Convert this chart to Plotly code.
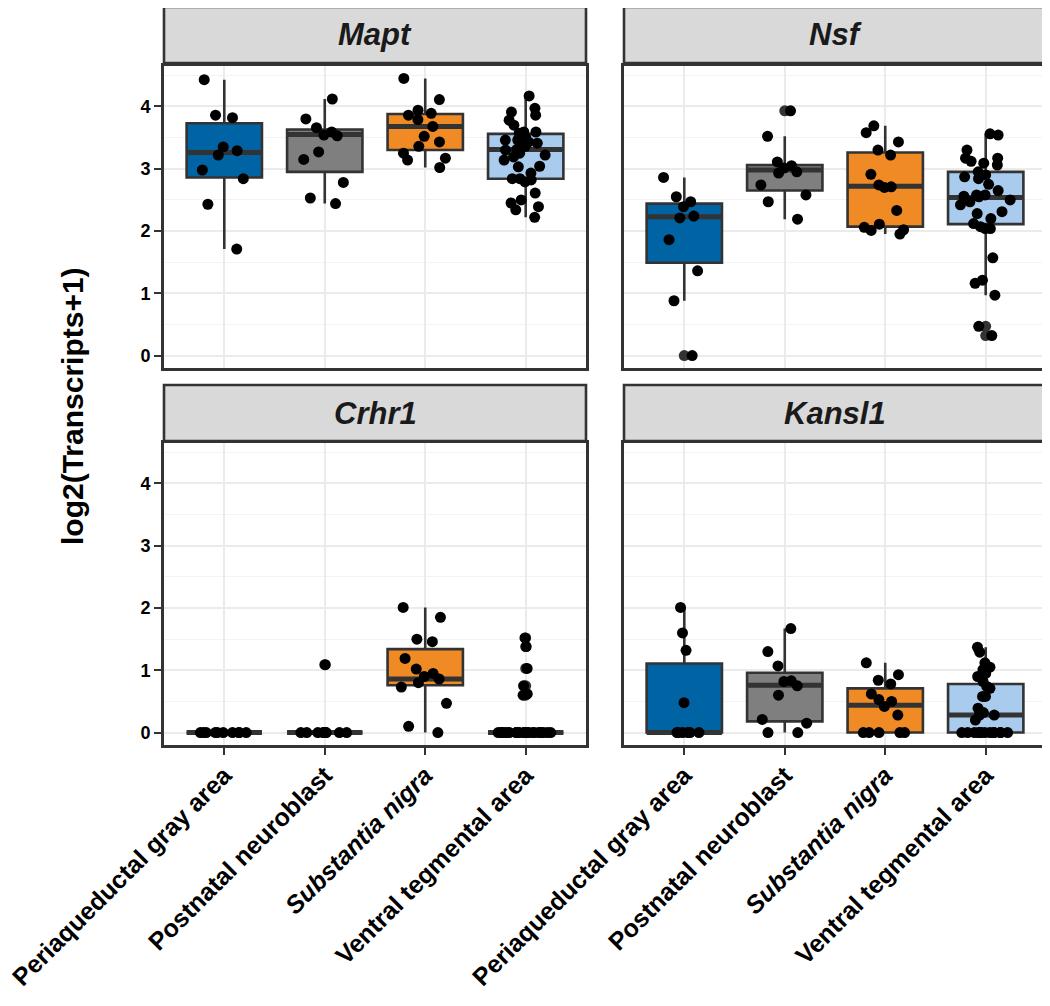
import plotly.graph_objects as go

# ---------------- data ----------------
categories = ["Periaqueductal gray area", "Postnatal neuroblast",
              "Substantia nigra", "Ventral tegmental area"]
tick_labels = ["Periaqueductal gray area", "Postnatal neuroblast",
               "<i>Substantia nigra</i>", "Ventral tegmental area"]
genes = ["Mapt", "Nsf", "Crhr1", "Kansl1"]
colors = ["#0063A3", "#7F7F7F", "#F08A24", "#A9CCEE"]
y_ticks = [0, 1, 2, 3, 4]

# Mapt
mapt_pag = [4.43, 3.86, 3.82, 3.35, 3.29, 3.22, 2.98, 2.84, 2.43, 1.71]
mapt_pn = [4.12, 3.80, 3.66, 3.59, 3.54, 3.53, 3.27, 3.15, 2.78, 2.53, 2.44]
mapt_sn = [4.45, 4.11, 3.94, 3.89, 3.86, 3.79, 3.68, 3.52, 3.43, 3.36, 3.25, 3.17, 3.14, 3.02]
mapt_vta = [4.17, 3.97, 3.91, 3.86, 3.78, 3.70, 3.59, 3.59, 3.57, 3.51, 3.46, 3.46, 3.43, 3.41,
            3.36, 3.31, 3.30, 3.25, 3.22, 3.19, 3.14, 3.04, 3.03, 2.93, 2.84, 2.84, 2.82, 2.79,
            2.61, 2.50, 2.45, 2.39, 2.34, 2.22]
mapt_q1 = [2.86, 2.95, 3.30, 2.84]
mapt_med = [3.26, 3.55, 3.68, 3.31]
mapt_q3 = [3.73, 3.63, 3.88, 3.56]
mapt_lo = [1.71, 2.44, 3.02, 2.22]
mapt_hi = [4.43, 4.12, 4.45, 4.17]

# Nsf
nsf_pag = [2.86, 2.55, 2.47, 2.39, 2.24, 2.21, 1.86, 1.36, 0.88, 0.0]
nsf_pn = [3.93, 3.52, 3.11, 3.05, 3.01, 2.95, 2.93, 2.74, 2.58, 2.47, 2.19]
nsf_sn = [3.69, 3.58, 3.43, 3.30, 3.22, 2.91, 2.74, 2.71, 2.70, 2.33, 2.11, 2.06, 2.02, 2.01, 1.95]
nsf_vta = [3.56, 3.54, 3.30, 3.17, 3.17, 3.12, 3.09, 3.06, 2.95, 2.90, 2.87, 2.84, 2.75, 2.65,
           2.58, 2.58, 2.56, 2.55, 2.50, 2.47, 2.42, 2.31, 2.28, 2.20, 2.12, 2.07, 2.04, 2.04,
           1.57, 1.21, 1.16, 0.97, 0.47, 0.32]
nsf_q1 = [1.49, 2.65, 2.07, 2.11]
nsf_med = [2.23, 2.98, 2.72, 2.54]
nsf_q3 = [2.44, 3.06, 3.26, 2.95]
nsf_lo = [0.88, 2.19, 1.95, 0.97]
nsf_hi = [2.86, 3.52, 3.69, 3.56]

# Crhr1
crhr1_pag = [0, 0, 0, 0, 0, 0, 0, 0, 0, 0]
crhr1_pn = [1.09, 0, 0, 0, 0, 0, 0, 0, 0, 0, 0]
crhr1_sn = [2.01, 1.85, 1.50, 1.46, 1.19, 1.02, 0.95, 0.90, 0.86, 0.80, 0.73, 0.47, 0.10, 0.0]
crhr1_vta = [1.52, 1.38, 1.03, 0.75, 0.62, 0.60, 0, 0, 0, 0, 0, 0, 0, 0, 0, 0, 0, 0, 0, 0,
             0, 0, 0, 0, 0, 0, 0, 0, 0, 0, 0, 0, 0, 0, 0]
crhr1_q1 = [0, 0, 0.76, 0]
crhr1_med = [0, 0, 0.86, 0]
crhr1_q3 = [0, 0, 1.34, 0]
crhr1_lo = [0, 0, 0, 0]
crhr1_hi = [0, 0, 2.01, 0]

# Kansl1
kansl1_pag = [2.01, 1.60, 1.32, 0.48, 0, 0, 0, 0, 0, 0]
kansl1_pn = [1.67, 1.30, 1.07, 0.83, 0.82, 0.75, 0.60, 0.21, 0.15, 0, 0]
kansl1_sn = [1.12, 0.93, 0.84, 0.78, 0.62, 0.53, 0.50, 0.42, 0.28, 0, 0, 0, 0, 0]
kansl1_vta = [1.37, 1.29, 1.12, 1.05, 1.01, 0.95, 0.90, 0.82, 0.74, 0.71, 0.58, 0.58, 0.39,
              0.32, 0.28, 0.28, 0.20, 0, 0, 0, 0, 0, 0, 0, 0, 0, 0, 0, 0, 0]
kansl1_q1 = [0, 0.18, 0, 0]
kansl1_med = [0, 0.76, 0.44, 0.28]
kansl1_q3 = [1.11, 0.96, 0.71, 0.78]
kansl1_lo = [0, 0, 0, 0]
kansl1_hi = [2.01, 1.67, 1.12, 1.37]

gene_points = {
    "Mapt": [mapt_pag, mapt_pn, mapt_sn, mapt_vta],
    "Nsf": [nsf_pag, nsf_pn, nsf_sn, nsf_vta],
    "Crhr1": [crhr1_pag, crhr1_pn, crhr1_sn, crhr1_vta],
    "Kansl1": [kansl1_pag, kansl1_pn, kansl1_sn, kansl1_vta],
}
gene_stats = {
    "Mapt": (mapt_q1, mapt_med, mapt_q3, mapt_lo, mapt_hi),
    "Nsf": (nsf_q1, nsf_med, nsf_q3, nsf_lo, nsf_hi),
    "Crhr1": (crhr1_q1, crhr1_med, crhr1_q3, crhr1_lo, crhr1_hi),
    "Kansl1": (kansl1_q1, kansl1_med, kansl1_q3, kansl1_lo, kansl1_hi),
}

# ---------------- layout geometry ----------------
# the page body has an 8px default margin, so the figure is drawn 8px in
PAGE_OFF = 8
W, H = 1050 - PAGE_OFF, 1006 - PAGE_OFF
FONT = "Liberation Sans, Arial, Helvetica, sans-serif"
DARK = "#333333"
GRID = "#EBEBEB"
MINOR = "#F3F3F3"

col_px = [(164, 586), (624, 1046)]
row_px = [(66, 368), (443, 745)]
strip_px = [(7, 63), (385, 441)]


def fx(p):
    return (p - PAGE_OFF) / W


def fy(p):
    return 1 - (p - PAGE_OFF) / H


fig = go.Figure()
layout_axes = {}
shapes = []
annotations = []

for gi, gene in enumerate(genes):
    r, c = divmod(gi, 2)
    idx = gi + 1
    xs = "x" if idx == 1 else f"x{idx}"
    ys = "y" if idx == 1 else f"y{idx}"
    pts = gene_points[gene]
    q1, med, q3, lo, hi = gene_stats[gene]

    for ci in range(4):
        xpos = ci + 1
        # box body
        fig.add_trace(go.Box(
            x=[xpos], q1=[q1[ci]], median=[med[ci]], q3=[q3[ci]],
            lowerfence=[lo[ci]], upperfence=[hi[ci]],
            width=0.75, whiskerwidth=0, boxpoints=False,
            fillcolor=colors[ci], line=dict(color=DARK, width=2.6),
            xaxis=xs, yaxis=ys, showlegend=False, hoverinfo="skip"))
        # thicker median bar
        fig.add_trace(go.Box(
            x=[xpos], q1=[med[ci]], median=[med[ci]], q3=[med[ci]],
            lowerfence=[med[ci]], upperfence=[med[ci]],
            width=0.75, whiskerwidth=0, boxpoints=False,
            fillcolor="rgba(0,0,0,0)", line=dict(color=DARK, width=5),
            xaxis=xs, yaxis=ys, showlegend=False, hoverinfo="skip"))
        # boxplot outliers (centred, dark grey) under the jittered points
        outl = [v for v in pts[ci] if v < lo[ci] - 1e-9 or v > hi[ci] + 1e-9]
        if outl:
            fig.add_trace(go.Box(
                x=[xpos] * len(outl), y=outl, boxpoints="all", jitter=0, pointpos=0,
                width=0.75, fillcolor="rgba(0,0,0,0)",
                line=dict(color="rgba(0,0,0,0)", width=0),
                marker=dict(color=DARK, size=11),
                xaxis=xs, yaxis=ys, showlegend=False, hoverinfo="skip"))
        # jittered points
        fig.add_trace(go.Box(
            x=[xpos] * len(pts[ci]), y=pts[ci], boxpoints="all", jitter=0.75, pointpos=0,
            width=0.75, fillcolor="rgba(0,0,0,0)",
            line=dict(color="rgba(0,0,0,0)", width=0),
            marker=dict(color="black", size=11),
            xaxis=xs, yaxis=ys, showlegend=False, name=categories[ci]))

    bottom = r == 1
    left = c == 0
    x0p, x1p = col_px[c]
    y0p, y1p = row_px[r]
    xkey = "xaxis" if idx == 1 else f"xaxis{idx}"
    ykey = "yaxis" if idx == 1 else f"yaxis{idx}"
    layout_axes[xkey] = dict(
        domain=[fx(x0p), fx(x1p)], anchor=ys, range=[0.4, 4.6], automargin=False,
        tickvals=[1, 2, 3, 4], ticktext=tick_labels,
        showticklabels=bottom, ticks="outside" if bottom else "",
        ticklen=7, tickwidth=2.4, tickcolor=DARK, tickangle=-45,
        ticklabelstandoff=-4, ticklabeloverflow="allow",
        tickfont=dict(family=FONT, size=25, color="black", weight="bold"),
        showgrid=True, gridcolor=GRID, gridwidth=2.4, zeroline=False,
        showline=True, mirror=True, linecolor=DARK, linewidth=2.6,
        fixedrange=True)
    layout_axes[ykey] = dict(
        domain=[fy(y1p), fy(y0p)], anchor=xs, range=[-0.2, 4.65], automargin=False,
        tickvals=y_ticks, showticklabels=left, ticks="outside" if left else "",
        ticklen=7, tickwidth=2.4, tickcolor=DARK,
        tickfont=dict(family=FONT, size=18, color="black", weight="bold"),
        showgrid=True, gridcolor=GRID, gridwidth=2.4, zeroline=False,
        minor=dict(tickvals=[0.5, 1.5, 2.5, 3.5, 4.5], showgrid=True,
                   gridcolor=MINOR, gridwidth=1.3, ticks=""),
        showline=True, mirror=True, linecolor=DARK, linewidth=2.6,
        fixedrange=True)

    s0, s1 = strip_px[r]
    shapes.append(dict(type="rect", xref="paper", yref="paper",
                       x0=fx(x0p), x1=fx(x1p), y0=fy(s1), y1=fy(s0),
                       fillcolor="#D9D9D9", line=dict(color=DARK, width=2.6),
                       layer="above"))
    annotations.append(dict(text=f"<b><i>{gene}</i></b>", xref="paper", yref="paper",
                            x=fx((x0p + x1p) / 2), y=fy((s0 + s1) / 2),
                            xanchor="center", yanchor="middle", showarrow=False,
                            font=dict(family=FONT, size=31, color="#1A1A1A")))

annotations.append(dict(text="<b>log2(Transcripts+1)</b>", xref="paper", yref="paper",
                        x=fx(72), y=fy(406), textangle=-90, showarrow=False,
                        xanchor="center", yanchor="middle",
                        font=dict(family=FONT, size=30, color="black")))

fig.update_layout(
    template="none",
    width=W, height=H, autosize=False,
    margin=dict(l=0, r=0, t=0, b=0, autoexpand=False),
    paper_bgcolor="white", plot_bgcolor="white",
    boxmode="overlay", showlegend=False,
    shapes=shapes, annotations=annotations,
    **layout_axes)

fig.write_html("out.html")
